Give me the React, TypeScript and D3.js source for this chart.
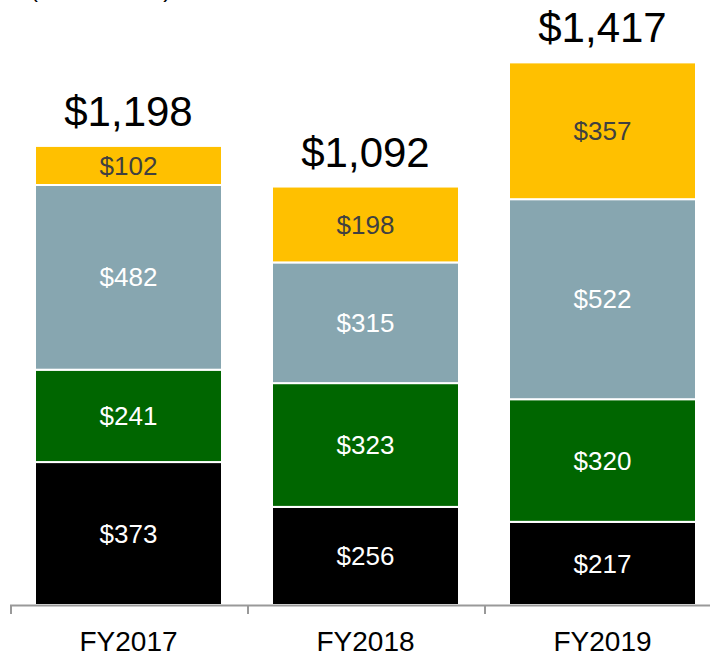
import React from "react";
import * as d3 from "d3";

const categories = ["FY2017", "FY2018", "FY2019"];
const seriesNames = ["Black", "Green", "Gray", "Yellow"];
const blackValues = [373, 256, 217];
const greenValues = [241, 323, 320];
const grayValues = [482, 315, 522];
const yellowValues = [102, 198, 357];
const totalLabels = ["$1,198", "$1,092", "$1,417"];
const unitTitle = "($ in millions)";

const colors = ["#000000", "#006600", "#87A6B0", "#FFC000"];
const labelColors = ["#FFFFFF", "#FFFFFF", "#FFFFFF", "#404040"];

export default function App() {
  const W = 710, H = 654;
  const left = 10, rangeEnd = 721, baseline = 605;
  const seriesValues = [blackValues, greenValues, grayValues, yellowValues];
  const rows = categories.map((c, i) => {
    const r: any = { cat: c };
    seriesNames.forEach((s, j) => (r[s] = seriesValues[j][i]));
    return r;
  });
  const stack = d3.stack<any>().keys(seriesNames)(rows);
  const x = d3.scaleBand().domain(categories).range([left, rangeEnd]).paddingInner(0.211).paddingOuter(0.1055);
  const xAxisBand = d3.scaleBand().domain(categories).range([left, rangeEnd]);
  const y = d3.scaleLinear().domain([0, 1417]).range([baseline, 62]);
  const font = "Liberation Sans, Arial, sans-serif";
  return (
    <svg width={W} height={H} style={{ position: "absolute", left: 0, top: 0 }} fontFamily={font}>
      <rect width={W} height={H} fill="#fff" />
      <text x={30} y={-3} fontSize={24} fill="#000">{unitTitle}</text>
      {stack.map((layer, j) =>
        layer.map((d, i) => {
          const x0 = x(categories[i])!;
          const yTop = y(d[1]);
          const yBot = y(d[0]);
          return (
            <g key={`${j}-${i}`}>
              <rect x={x0} y={yTop} width={x.bandwidth()} height={yBot - yTop} fill={colors[j]} stroke="#fff" strokeWidth={2} />
              <text x={x0 + x.bandwidth() / 2} y={(yTop + yBot) / 2} dy="0.35em" textAnchor="middle" fontSize={26} fill={labelColors[j]}>
                {"$" + seriesValues[j][i]}
              </text>
            </g>
          );
        })
      )}
      {categories.map((c, i) => {
        const top = y(stack[stack.length - 1][i][1]);
        return (
          <text key={c} x={x(c)! + x.bandwidth() / 2} y={top - 20} textAnchor="middle" fontSize={42} fill="#000">
            {totalLabels[i]}
          </text>
        );
      })}
      <line x1={left} x2={W} y1={baseline + 0.5} y2={baseline + 0.5} stroke="#999" strokeWidth={2} />
      {[...categories.map((c) => xAxisBand(c)!), rangeEnd].map((t, i) => (
        <line key={i} x1={t + 1} x2={t + 1} y1={baseline} y2={baseline + 9} stroke="#999" strokeWidth={2} />
      ))}
      {categories.map((c) => (
        <text key={c} x={xAxisBand(c)! + xAxisBand.bandwidth() / 2} y={651} textAnchor="middle" fontSize={28} fill="#000">
          {c}
        </text>
      ))}
    </svg>
  );
}
